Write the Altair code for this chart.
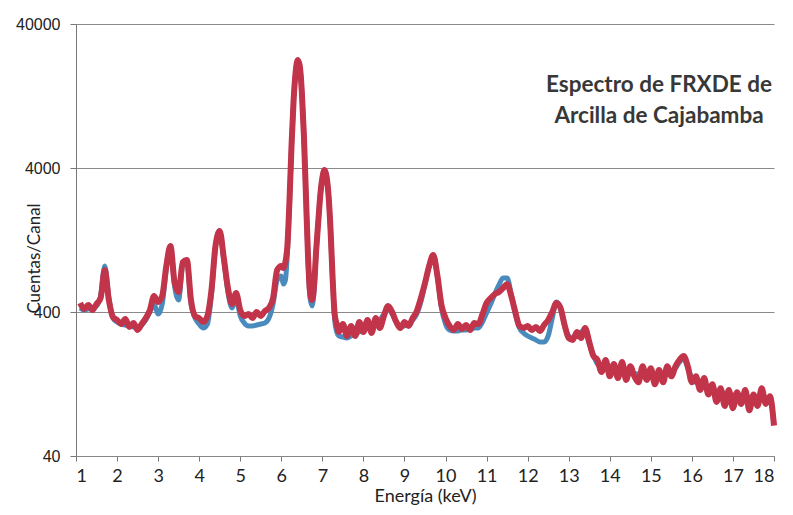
import altair as alt
import pandas as pd

energy = [
    1.1, 1.2, 1.3, 1.4, 1.5, 1.6, 1.7, 1.8, 1.9, 2.0,
    2.1, 2.2, 2.3, 2.4, 2.5, 2.6, 2.7, 2.8, 2.9, 3.0,
    3.1, 3.2, 3.3, 3.4, 3.5, 3.6, 3.7, 3.8, 3.9, 4.0,
    4.1, 4.2, 4.3, 4.4, 4.5, 4.6, 4.7, 4.8, 4.9, 5.0,
    5.1, 5.2, 5.3, 5.4, 5.5, 5.6, 5.7, 5.8, 5.9, 6.0,
    6.05, 6.1, 6.15, 6.2, 6.25, 6.3, 6.35, 6.4, 6.45, 6.5,
    6.55, 6.6, 6.65, 6.7, 6.75, 6.8, 6.85, 6.9, 6.95, 7.0,
    7.05, 7.1, 7.15, 7.2, 7.25, 7.3, 7.35, 7.4, 7.5, 7.6,
    7.7, 7.8, 7.9, 8.0, 8.1, 8.2, 8.3, 8.4, 8.5, 8.6,
    8.7, 8.8, 8.9, 9.0, 9.1, 9.2, 9.3, 9.4, 9.5, 9.6,
    9.7, 9.8, 9.9, 10.0, 10.1, 10.2, 10.3, 10.4, 10.5, 10.6,
    10.7, 10.8, 10.9, 11.0, 11.1, 11.2, 11.3, 11.4, 11.5, 11.6,
    11.7, 11.8, 11.9, 12.0, 12.1, 12.2, 12.3, 12.4, 12.5, 12.6,
    12.7, 12.8, 12.9, 13.0, 13.1, 13.2, 13.3, 13.4, 13.5, 13.6,
    13.7, 13.8, 13.9, 14.0, 14.1, 14.2, 14.3, 14.4, 14.5, 14.6,
    14.7, 14.8, 14.9, 15.0, 15.1, 15.2, 15.3, 15.4, 15.5, 15.6,
    15.7, 15.8, 15.9, 16.0, 16.1, 16.2, 16.3, 16.4, 16.5, 16.6,
    16.7, 16.8, 16.9, 17.0, 17.1, 17.2, 17.3, 17.4, 17.5, 17.6,
    17.7, 17.8, 17.9, 18.0,
]

# measured spectrum (red)
measured = [
    462, 420, 448, 413, 455, 500, 783, 485, 369, 352,
    330, 357, 315, 335, 300, 330, 363, 413, 517, 470,
    517, 834, 1150, 646, 551, 889, 918, 485, 375, 363,
    341, 375, 569, 1168, 1460, 948, 587, 455, 542, 413,
    375, 387, 363, 400, 375, 406, 427, 500, 783, 834,
    808, 889, 1168, 2400, 5780, 11860, 18570, 22500, 20440, 13490,
    6780, 2597, 995, 551, 485, 616, 1079, 1687, 2597, 3408,
    3874, 3520, 2597, 1484, 689, 387, 330, 291, 330, 273,
    320, 273, 341, 291, 352, 286, 363, 310, 375, 441,
    400, 341, 310, 341, 320, 363, 406, 500, 636, 834,
    995, 722, 448, 363, 320, 300, 330, 305, 325, 300,
    335, 330, 387, 462, 500, 533, 551, 587, 626, 517,
    400, 320, 310, 320, 300, 315, 295, 325, 352, 400,
    462, 427, 325, 264, 256, 291, 264, 310, 248, 198,
    186, 153, 186, 143, 174, 139, 180, 135, 168, 143,
    130, 168, 135, 163, 126, 158, 130, 168, 143, 168,
    186, 198, 168, 130, 143, 115, 139, 107, 126, 95,
    118, 89, 115, 86, 111, 92, 115, 83, 107, 89,
    118, 92, 104, 65,
]

# fitted spectrum (blue)
fitted = [
    427, 413, 420, 427, 441, 517, 834, 500, 363, 341,
    330, 325, 320, 315, 315, 325, 352, 400, 455, 387,
    455, 808, 1150, 606, 485, 861, 918, 455, 363, 330,
    310, 330, 533, 1150, 1460, 918, 551, 427, 500, 375,
    335, 320, 320, 325, 330, 335, 363, 455, 667, 711,
    626, 667, 1044, 2249, 5690, 11860, 18570, 22500, 20440, 13490,
    6780, 2556, 948, 500, 441, 569, 1044, 1687, 2597, 3408,
    3874, 3520, 2597, 1437, 667, 352, 291, 273, 268, 264,
    273, 282, 291, 300, 310, 320, 330, 352, 387, 427,
    387, 341, 320, 320, 330, 352, 387, 470, 626, 834,
    995, 711, 427, 330, 300, 295, 295, 300, 300, 305,
    310, 310, 341, 394, 455, 533, 616, 689, 689, 533,
    387, 310, 286, 273, 264, 256, 248, 248, 273, 363,
    470, 427, 320, 273, 264, 282, 291, 300, 240, 201,
    174, 166, 163, 160, 158, 158, 155, 153, 153, 150,
    148, 148, 146, 146, 143, 143, 143, 148, 153, 163,
    180, 191, 163, 139, 130, 124, 120, 117, 115, 113,
    111, 109, 107, 106, 104, 104, 102, 102, 101, 101,
    99, 99, 98, 66,
]

df_fit = pd.DataFrame({"energia": energy, "cuentas": fitted})
df_med = pd.DataFrame({"energia": energy, "cuentas": measured})

x_ticks = list(range(1, 19))
y_ticks = [40, 400, 4000, 40000]
title_lines = ["Espectro de FRXDE de", "Arcilla de Cajabamba"]

x_enc = alt.X(
    "energia:Q",
    scale=alt.Scale(domain=[1, 18], nice=False, zero=False),
    axis=alt.Axis(
        title="Energía (keV)",
        values=x_ticks,
        format="d",
        grid=False,
        tickSize=5,
        tickColor="#777777",
        domainColor="#888888",
        labelFont="Lato",
        labelFontSize=18,
        labelColor="#222222",
        labelPadding=6,
        titleFont="Lato",
        titleFontSize=18,
        titleFontWeight="normal",
        titleColor="#222222",
        titlePadding=2,
    ),
)
y_enc = alt.Y(
    "cuentas:Q",
    scale=alt.Scale(type="log", domain=[40, 40000], nice=False),
    axis=alt.Axis(
        title="Cuentas/Canal",
        values=y_ticks,
        format="d",
        grid=True,
        gridColor="#8a8a8a",
        gridWidth=1,
        tickSize=6,
        tickColor="#777777",
        domainColor="#777777",
        labelFont="Liberation Sans",
        labelFontSize=16,
        labelColor="#222222",
        labelPadding=10,
        titleFont="Lato",
        titleFontSize=17,
        titleFontWeight="normal",
        titleColor="#222222",
        titleX=-42,
        titleY=234,
        titleAngle=270,
        titleAlign="center",
        titleBaseline="middle",
    ),
)

fit_line = alt.Chart(df_fit).mark_line(
    color="#4A8BBE", strokeWidth=5, interpolate="monotone"
).encode(x=x_enc, y=y_enc)

med_line = alt.Chart(df_med).mark_line(
    color="#C2344A", strokeWidth=6, interpolate="monotone"
).encode(x=x_enc, y=y_enc)

t1 = alt.Chart(pd.DataFrame({"t": [title_lines[0]]})).mark_text(
    font="Lato", fontSize=22.5, fontWeight="bold", color="#383838",
    align="center", baseline="middle"
).encode(text="t:N", x=alt.value(583), y=alt.value(61))

t2 = alt.Chart(pd.DataFrame({"t": [title_lines[1]]})).mark_text(
    font="Lato", fontSize=22.5, fontWeight="bold", color="#383838",
    align="center", baseline="middle"
).encode(text="t:N", x=alt.value(583), y=alt.value(92))

chart = alt.layer(fit_line, med_line, t1, t2).properties(
    width=698,
    height=432,
    autosize=alt.AutoSizeParams(type="none"),
    padding={"left": 68, "top": 16, "right": 11, "bottom": 51},
).configure_view(stroke=None)

chart.save("out.html", embed_options={"renderer": "svg", "actions": False})
